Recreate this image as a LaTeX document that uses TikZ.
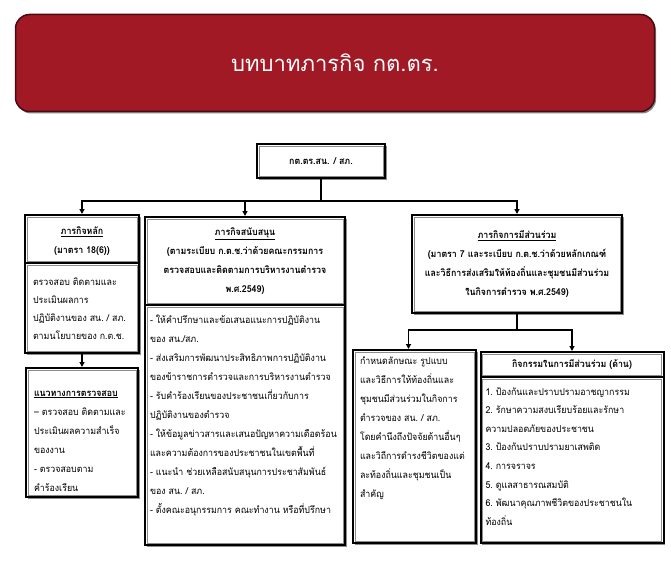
\documentclass[tikz,border=0pt]{standalone}
\usepackage{fontspec}
\newfontfamily\thai[Script=Thai, FakeStretch=0.93]{Loma}
\newfontfamily\thaititle[Script=Thai]{Loma}
\usetikzlibrary{shadows,arrows.meta}
\definecolor{bannerred}{RGB}{161,25,37}
\newcommand{\btext}[4]{\parbox[c][#2][t]{#1}{\raggedright\rule{0pt}{#3}#4}}
\tikzset{
  frame/.style={draw=black, line width=2pt, fill=white, inner sep=0pt,
    drop shadow={shadow xshift=1.5pt, shadow yshift=-1.5pt, fill=black!45, opacity=1}},
  conn/.style={line width=1.3pt, draw=black},
  arr/.style={conn, -{Triangle[length=5pt,width=5pt]}},
  headtxt/.style={font=\thai\bfseries\fontsize{9.5}{19}\selectfont, align=center},
  bodytxt/.style={font=\thai\fontsize{9.5}{19}\selectfont},
  innerline/.style={draw=black!45, line width=0.9pt},
}
\begin{document}
\begin{tikzpicture}[x=1pt,y=-1pt]
\useasboundingbox (0,0) rectangle (671,567);
% banner
\node[draw=black!55!bannerred, line width=1.5pt, fill=bannerred, rounded corners=14pt,
  minimum width=639pt, minimum height=97pt, inner sep=0pt,
  drop shadow={shadow xshift=1.5pt, shadow yshift=-2pt, fill=black!60, opacity=0.8},
  text=white, font=\thaititle\fontsize{22}{26}\selectfont] (title) at (335,63) {บทบาทภารกิจ กต.ตร.};
% top box
\node[frame, minimum width=128pt, minimum height=34pt, headtxt] (top) at (321,161) {กต.ตร.สน. / สภ.};
% left column
\node[frame, minimum width=114pt, minimum height=48pt, headtxt] (lh) at (82,239)
  {\rule{0pt}{12pt}\underline{ภารกิจหลัก}\\(มาตรา 18(6))};
\node[frame, minimum width=114pt, minimum height=90pt, bodytxt] (lb) at (82,308)
  {\btext{98pt}{86pt}{20pt}{\baselineskip=18pt ตรวจสอบ~ติดตามและ\\ประเมินผลการ\\ปฏิบัติงานของ~สน.~/~สภ.\\ตามนโยบายของ~ก.ต.ช.}};
\node[frame, minimum width=112pt, minimum height=129pt, bodytxt] (ll) at (82,432.5)
  {\btext{96pt}{125pt}{26pt}{\baselineskip=19pt \textbf{\underline{แนวทางการตรวจสอบ}}\\–~ตรวจสอบ~ติดตามและ\\ประเมินผลความสำเร็จ\\ของงาน\\-~ตรวจสอบตาม\\คำร้องเรียน}};
% middle column
\node[frame, minimum width=200pt, minimum height=88pt, headtxt] (mh) at (245,261)
  {\underline{ภารกิจสนับสนุน}\\(ตามระเบียบ~ก.ต.ช.ว่าด้วยคณะกรรมการ\\ตรวจสอบและติดตามการบริหารงานตำรวจ\\พ.ศ.2549)};
\node[frame, minimum width=200pt, minimum height=240pt, bodytxt] (mb) at (245,425)
  {\btext{190pt}{236pt}{16pt}{\baselineskip=19pt -~ให้คำปรึกษาและข้อเสนอแนะการปฏิบัติงาน\\ของ~สน./สภ.\\-~ส่งเสริมการพัฒนาประสิทธิภาพการปฏิบัติงาน\\ของข้าราชการตำรวจและการบริหารงานตำรวจ\\-~รับคำร้องเรียนของประชาชนเกี่ยวกับการ\\ปฏิบัติงานของตำรวจ\\-~ให้ข้อมูลข่าวสารและเสนอปัญหาความเดือดร้อน\\และความต้องการของประชาชนในเขตพื้นที่\\-~แนะนำ~ช่วยเหลือสนับสนุนการประชาสัมพันธ์\\ของ~สน.~/~สภ.\\-~ตั้งคณะอนุกรรมการ~คณะทำงาน~หรือที่ปรึกษา}};
% right column
\node[frame, minimum width=210pt, minimum height=98pt, headtxt] (rh) at (517,264)
  {\underline{ภารกิจการมีส่วนร่วม}\\(มาตรา~7~และระเบียบ~ก.ต.ช.ว่าด้วยหลักเกณฑ์\\และวิธีการส่งเสริมให้ท้องถิ่นและชุมชนมีส่วนร่วม\\ในกิจการตำรวจ~พ.ศ.2549)};
\node[frame, minimum width=123pt, minimum height=193pt, bodytxt] (ra) at (414.5,446.5)
  {\btext{109pt}{189pt}{12pt}{\baselineskip=19pt กำหนดลักษณะ~รูปแบบ\\และวิธีการให้ท้องถิ่นและ\\ชุมชนมีส่วนร่วมในกิจการ\\ตำรวจของ~สน.~/~สภ.\\โดยคำนึงถึงปัจจัยด้านอื่นๆ\\และวิถีการดำรงชีวิตของแต่\\ละท้องถิ่นและชุมชนเป็น\\สำคัญ}};
\node[frame, minimum width=183pt, minimum height=25pt, headtxt] (rbh) at (572,364.5)
  {กิจกรรมในการมีส่วนร่วม~(ด้าน)};
\node[frame, minimum width=183pt, minimum height=166pt, bodytxt] (rbb) at (572,460)
  {\btext{173pt}{162pt}{16pt}{\baselineskip=18.6pt 1.~ป้องกันและปราบปรามอาชญากรรม\\2.~รักษาความสงบเรียบร้อยและรักษา\\ความปลอดภัยของประชาชน\\3.~ป้องกันปราบปรามยาเสพติด\\4.~การจราจร\\5.~ดูแลสาธารณสมบัติ\\6.~พัฒนาคุณภาพชีวิตของประชาชนใน\\ท้องถิ่น}};
% inner grey lines
\foreach \n in {top,lh,lb,ll,mh,mb,rh,ra,rbh,rbb}
  \draw[innerline] ([shift={(3,3)}]\n.north west) rectangle ([shift={(-3,-3)}]\n.south east);
% connectors
\coordinate (j1) at (321,201);
\coordinate (j2) at (517,330);
\draw[conn] (top.south) -- (j1);
\draw[arr] (j1) -| (lh.north);
\draw[arr] (j1) -| (mh.north);
\draw[arr] (j1) -| (rh.north);
\draw[arr] (lb.south) -- (ll.north);
\draw[conn] (rh.south) -- (j2);
\draw[arr] (j2) -| ([xshift=-6pt]ra.north);
\draw[arr] (j2) -| (rbh.north);
\end{tikzpicture}
\end{document}
